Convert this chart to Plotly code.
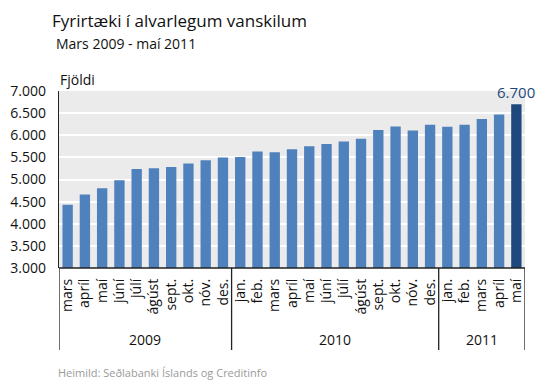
import plotly.graph_objects as go

months = ["mars", "apríl", "maí", "júní", "júlí", "ágúst", "sept.", "okt.", "nóv.", "des.",
          "jan.", "feb.", "mars", "apríl", "maí", "júní", "júlí", "ágúst", "sept.", "okt.", "nóv.", "des.",
          "jan.", "feb.", "mars", "apríl", "maí"]
values = [4430, 4660, 4800, 4985, 5240, 5255, 5285, 5360, 5435, 5500,
          5510, 5635, 5615, 5685, 5750, 5805, 5860, 5920, 6120, 6200, 6110, 6235,
          6190, 6235, 6370, 6470, 6700]
years = ["2009", "2010", "2011"]
year_counts = [10, 12, 5]
ytick_vals = [3000, 3500, 4000, 4500, 5000, 5500, 6000, 6500, 7000]
ytick_text = ["3.000", "3.500", "4.000", "4.500", "5.000", "5.500", "6.000", "6.500", "7.000"]

FONT = "Open Sans"
n = len(values)
x = list(range(n))
colors = ["#4f81bd"] * (n - 1) + ["#1f497d"]

OFF = 8  # page body margin
FW, FH = 550 - OFF, 382 - OFF
L, T = 59 - OFF, 91 - OFF
R = FW - (525 - OFF)
B = FH - (268 - OFF)
H = FH - T - B
W = FW - L - R


def py(ypx):
    return (FH - B - (ypx - OFF)) / H


def px(xpx):
    return (xpx - OFF - L) / W


fig = go.Figure()
fig.add_trace(go.Bar(x=x, y=values, marker=dict(color=colors, line=dict(width=0)),
                     width=0.6, hoverinfo="skip"))

shapes = []
annotations = []
pos = -0.5
bounds = [pos]
for c in year_counts:
    pos += c
    bounds.append(pos)
for b in bounds:
    shapes.append(dict(type="line", xref="x", yref="paper", x0=b, x1=b, y0=0, y1=py(350),
                       line=dict(color="#222", width=1.3)))
for i, yr in enumerate(years):
    annotations.append(dict(x=(bounds[i] + bounds[i + 1]) / 2, y=py(339), xref="x", yref="paper",
                            text=yr, showarrow=False, yanchor="middle",
                            font=dict(size=14, color="#111", family=FONT)))
shapes.append(dict(type="line", xref="paper", yref="paper", x0=0, x1=1, y0=0, y1=0,
                   line=dict(color="#222", width=1.3)))

annotations += [
    dict(x=n - 1, y=values[-1], xref="x", yref="y", text="6.700", showarrow=False,
         yanchor="bottom", yshift=0, font=dict(size=15, color="#1f497d", family=FONT)),
    dict(x=px(58), y=py(79), xref="paper", yref="paper", text="Fjöldi", showarrow=False,
         xanchor="left", yanchor="middle", font=dict(size=14, color="#111", family=FONT)),
    dict(x=px(51), y=py(OFF), xref="paper", yref="paper", text="Fyrirtæki í alvarlegum vanskilum",
         showarrow=False, xanchor="left", yanchor="top", borderpad=0,
         font=dict(size=17, color="#111", family=FONT)),
    dict(x=px(55), y=py(44), xref="paper", yref="paper", text="Mars 2009 - maí 2011",
         showarrow=False, xanchor="left", yanchor="middle", borderpad=0,
         font=dict(size=14, color="#111", family=FONT)),
    dict(x=px(56), y=py(372), xref="paper", yref="paper", xanchor="left", yanchor="middle",
         text="Heimild: Seðlabanki Íslands og Creditinfo", showarrow=False,
         font=dict(size=11, color="#9a9a9a", family=FONT)),
]

fig.update_layout(
    width=FW, height=FH,
    margin=dict(l=L, r=R, t=T, b=B),
    paper_bgcolor="white", plot_bgcolor="#ebebeb",
    showlegend=False,
    font=dict(family=FONT, color="#111", size=14),
    xaxis=dict(range=[-0.5, n - 0.5], tickmode="array", tickvals=x, ticktext=months,
               tickangle=-90, ticks="", showgrid=False, zeroline=False, showline=False,
               automargin=False,
               tickfont=dict(size=14, family=FONT, color="#111"), ticklabelstandoff=7, fixedrange=True),
    yaxis=dict(range=[3000, 7000], tickmode="array", tickvals=ytick_vals, ticktext=ytick_text,
               ticks="", showgrid=True, gridcolor="white", gridwidth=2, zeroline=False,
               showline=True, linecolor="#222", linewidth=1.3, automargin=False,
               tickfont=dict(size=14, family=FONT, color="#111"), ticklabelstandoff=9, fixedrange=True),
    shapes=shapes,
    annotations=annotations,
)
fig.write_html("out.html")
